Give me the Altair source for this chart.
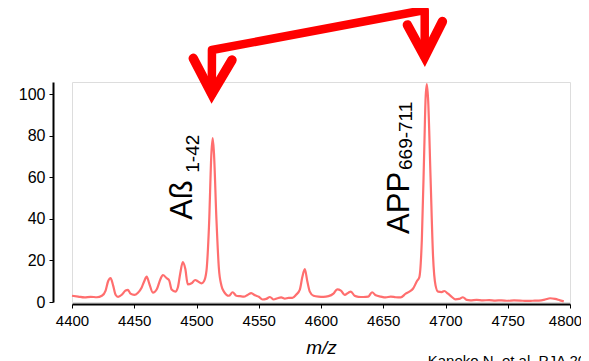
import altair as alt
import pandas as pd

# ---- spectrum data (m/z, relative intensity) ----
mz = [4400, 4405, 4410, 4415, 4420, 4424, 4427, 4429, 4431, 4433, 4435, 4437, 4440, 4443, 4445,
      4447, 4450, 4453, 4456, 4458, 4460, 4462, 4465, 4468, 4471, 4473, 4476, 4478, 4480, 4483,
      4485, 4487, 4489, 4491, 4493, 4496, 4499, 4501, 4504, 4506, 4508, 4510, 4512, 4513, 4514,
      4516, 4518, 4520, 4522, 4526, 4529, 4532, 4535, 4538, 4541, 4544, 4547, 4550, 4553, 4556,
      4559, 4562, 4565, 4568, 4571, 4574, 4577, 4580, 4583, 4585, 4587, 4589, 4591, 4594, 4598,
      4602, 4606, 4610, 4613, 4616, 4619, 4622, 4624, 4627, 4630, 4634, 4638, 4641, 4644, 4648,
      4652, 4656, 4660, 4664, 4668, 4671, 4674, 4677, 4679, 4681, 4683, 4684, 4685, 4686, 4688,
      4690, 4692, 4694, 4697, 4699, 4702, 4705, 4708, 4711, 4714, 4717, 4720, 4725, 4730, 4735,
      4740, 4745, 4750, 4755, 4760, 4765, 4770, 4775, 4780, 4784, 4788, 4792, 4795]
intensity = [3.0, 2.6, 2.2, 2.5, 2.3, 3.0, 5.5, 10, 11.5, 8, 3.5, 2.5, 3.5, 5.5, 5.8,
             4, 3.4, 4.5, 7, 10, 12.2, 9, 4.5, 6, 11, 13, 11.5, 10.5, 6, 5,
             7, 14, 19.2, 16, 8.5, 9, 10.6, 10, 9, 10, 15, 36, 72, 79, 72,
             40, 16, 8, 5, 3, 4.7, 3, 2.8, 2.6, 3.4, 4.3, 3.2, 2.5, 1.2, 1.5,
             2.4, 1.2, 1.8, 2.2, 1.6, 2.0, 2.0, 3.5, 6, 12, 15.8, 10, 5, 3, 2.6,
             2.5, 2.8, 4, 6.1, 5.5, 3.4, 4.5, 5, 3, 2.5, 2.4, 2.6, 4.7, 3.2, 2.6,
             2.2, 2.6, 2.3, 2.2, 4, 5, 6.5, 10, 12, 30, 75, 98, 105, 98, 60,
             22, 8, 5, 4.8, 5.3, 4, 2.5, 1.3, 1.5, 2.3, 1.0, 0.8, 1.0, 0.8, 0.9,
             0.7, 0.8, 0.6, 0.8, 0.7, 0.5, 0.6, 0.7, 1.2, 1.8, 1.5, 0.8, 0.3]

x_ticks = [4400, 4450, 4500, 4550, 4600, 4650, 4700, 4750, 4800]
y_ticks = [0, 20, 40, 60, 80, 100]

# ---- arrow annotation (data units) ----
conn_order = [0, 1, 2, 3]
conn_mz = [4512.3, 4512.4, 4683.3, 4683.3]
conn_int = [100.2, 121.4, 140.7, 118.2]

head_group = ["L", "L", "L", "R", "R", "R"]
head_order = [0, 1, 2, 0, 1, 2]
head_mz = [4497.4, 4512.3, 4528.5, 4669.4, 4683.3, 4697.5]
head_int = [117.4, 100.2, 116.6, 133.5, 118.2, 135.1]

# ---- peak labels ----
main_labels = ["Aß", "APP"]
main_mz = [4496.3, 4670.7]
main_int = [39.6, 32.8]
sub_labels = ["1-42", "669-711"]
sub_mz = [4502.0, 4672.8]
sub_int = [62.3, 63.6]

citation = ["Kaneko N, et al. PJA 2014"]
cite_mz = [4685.7]
cite_int = [-30.8]

FONT = "Liberation Sans"

spec = pd.DataFrame({"mz": mz, "intensity": intensity})
conn = pd.DataFrame({"o": conn_order, "mz": conn_mz, "intensity": conn_int})
heads = pd.DataFrame({"g": head_group, "o": head_order, "mz": head_mz, "intensity": head_int})
mains = pd.DataFrame({"t": main_labels, "mz": main_mz, "intensity": main_int})
subs = pd.DataFrame({"t": sub_labels, "mz": sub_mz, "intensity": sub_int})
cites = pd.DataFrame({"t": citation, "mz": cite_mz, "intensity": cite_int})

xs = alt.Scale(domain=[4400, 4800], nice=False, zero=False)
ys = alt.Scale(domain=[0, 106], nice=False)

x_axis = alt.Axis(values=x_ticks, grid=False, tickSize=4, tickColor="black", domainColor="black",
                  domainWidth=2, labelFontSize=15, labelColor="black", labelFont=FONT,
                  labelPadding=5, offset=2, title="m/z", titleFontStyle="italic", titleFont=FONT,
                  titleFontSize=19, titleFontWeight="normal", titleColor="black", titlePadding=10,
                  labelFlush=False, format="d",
                  labelOffset={"condition": {"test": "datum.value == 4800", "value": -5}, "value": 0})
y_axis = alt.Axis(values=y_ticks, grid=False, tickSize=4, tickColor="black", domainColor="black",
                  domainWidth=2, labelFontSize=16, labelColor="black", labelFont=FONT,
                  labelPadding=4, offset=19, title=None, format="d")

line = alt.Chart(spec).mark_line(color="#ff6e6e", strokeWidth=2.2, interpolate="monotone").encode(
    x=alt.X("mz:Q", scale=xs, axis=x_axis),
    y=alt.Y("intensity:Q", scale=ys, axis=y_axis),
)

connector = alt.Chart(conn).mark_line(color="#ff0000", strokeWidth=8.5, strokeJoin="round",
                                      strokeCap="round", clip=False).encode(
    x=alt.X("mz:Q", scale=xs),
    y=alt.Y("intensity:Q", scale=ys),
    order="o:Q",
)

arrowheads = alt.Chart(heads).mark_line(color="#ff0000", strokeWidth=9.5, strokeJoin="miter",
                                        strokeCap="round", clip=False).encode(
    x=alt.X("mz:Q", scale=xs),
    y=alt.Y("intensity:Q", scale=ys),
    detail="g:N",
    order="o:Q",
)

main_text = alt.Chart(mains).mark_text(angle=270, align="left", baseline="alphabetic",
                                       fontSize=31, font=FONT, color="black").encode(
    x=alt.X("mz:Q", scale=xs), y=alt.Y("intensity:Q", scale=ys), text="t:N")

sub_text = alt.Chart(subs).mark_text(angle=270, align="left", baseline="alphabetic",
                                     fontSize=19, font=FONT, color="black").encode(
    x=alt.X("mz:Q", scale=xs), y=alt.Y("intensity:Q", scale=ys), text="t:N")

cite_text = alt.Chart(cites).mark_text(align="left", baseline="alphabetic",
                                       fontSize=15, font=FONT, color="black").encode(
    x=alt.X("mz:Q", scale=xs), y=alt.Y("intensity:Q", scale=ys), text="t:N")

chart = alt.layer(line, connector, arrowheads, main_text, sub_text, cite_text).properties(
    width=498, height=220,
    autosize=alt.AutoSizeParams(type="none"),
    padding={"left": 64, "top": 74, "right": 11, "bottom": 59},
).configure_view(stroke=None).configure(background="white")

chart.save("out.html", embed_options={"renderer": "svg", "actions": False})
